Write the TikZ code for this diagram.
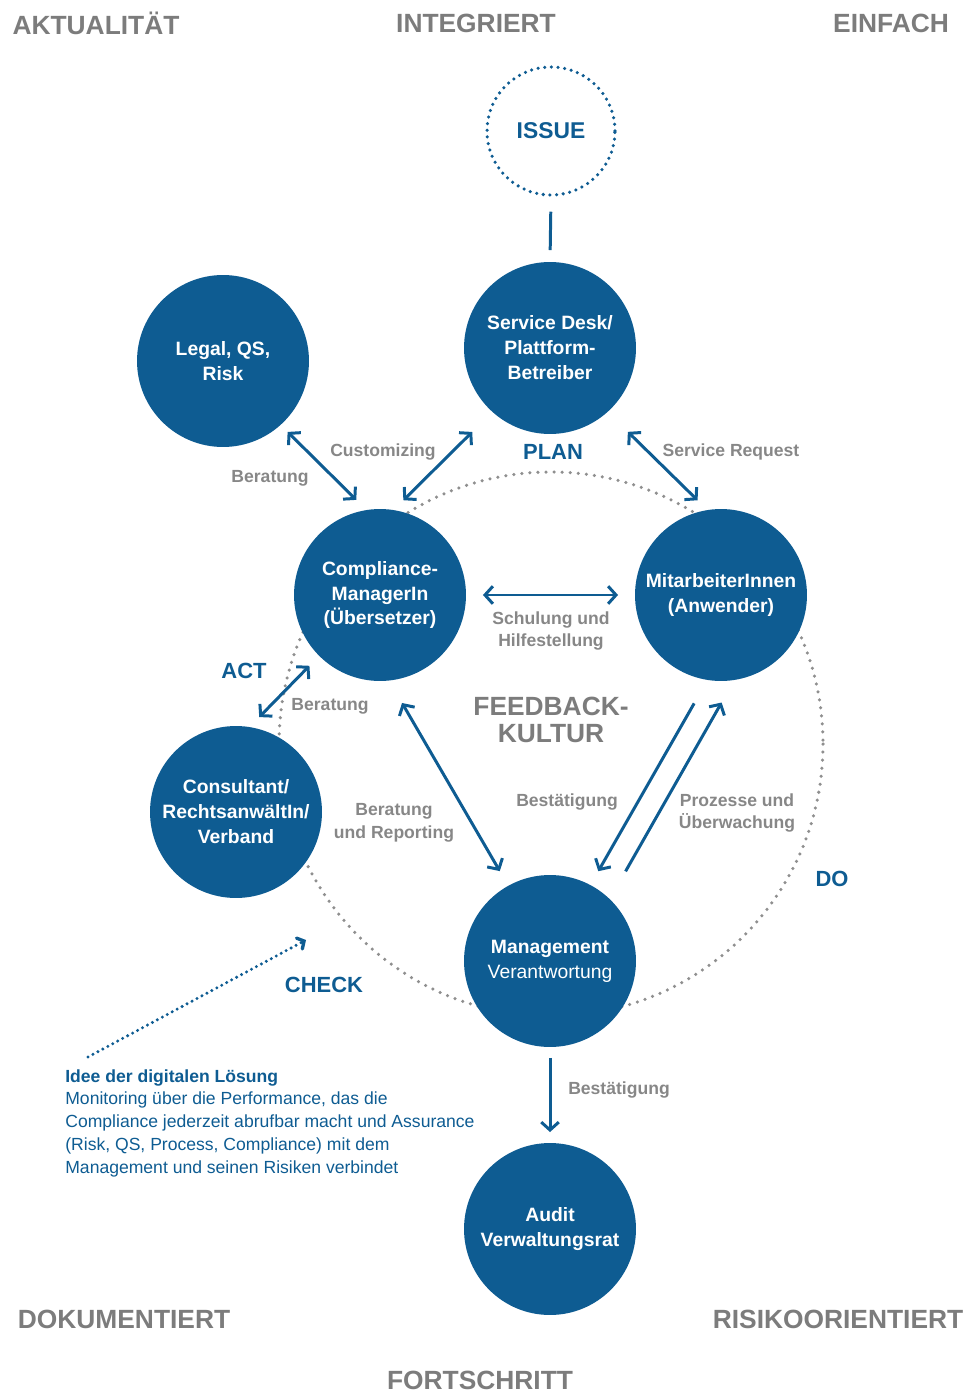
\documentclass[tikz,border=0pt]{standalone}
\usepackage{fontspec}
\setmainfont{Liberation Sans}
\usetikzlibrary{arrows.meta}
\definecolor{deepblue}{HTML}{0E5C92}
\definecolor{labelgrey}{HTML}{878787}
\definecolor{cornergrey}{HTML}{7C7C7C}
\definecolor{ringgrey}{HTML}{8F8F8F}

\begin{document}
\begin{tikzpicture}[x=0.02cm, y=-0.02cm,
  >={Straight Barb[length=4.5pt,width=10pt]},
  roundel/.style={circle, fill=deepblue, minimum size=3.44cm, inner sep=0pt, outer sep=0pt,
    text=white, align=center, font=\fontsize{11}{14.2}\selectfont\bfseries},
  corner/.style={text=cornergrey, font=\fontsize{15}{15}\selectfont\bfseries},
  phase/.style={text=deepblue, font=\fontsize{12.5}{12.5}\selectfont\bfseries},
  flowlabel/.style={text=labelgrey, align=center, font=\fontsize{10}{13}\selectfont\bfseries},
  link/.style={deepblue, line width=1.7pt},
  ring/.style={ringgrey, line width=2pt, line cap=round, dash pattern=on 0pt off 4.6pt}]

\useasboundingbox (0,0) rectangle (969,1395);

%%%%%% corners
\node[corner] (aktual) at (96,23) {AKTUALITÄT};
\node[corner] (integr) at (476,23) {INTEGRIERT};
\node[corner] (einfach) at (891,23) {EINFACH};
\node[corner] (doku) at (124,1319) {DOKUMENTIERT};
\node[corner] (risiko) at (838,1319) {RISIKOORIENTIERT};
\node[corner] (fort) at (480,1380) {FORTSCHRITT};

%feedback ring
\coordinate (kultur) at (551,744);
\draw [ring] (kultur) circle (272);
\node[text=cornergrey, align=center, font=\fontsize{15}{15.5}\selectfont\bfseries] (fbtext) at (551,720) {FEEDBACK-\\KULTUR};

%issue
\node[circle, draw=deepblue, line width=2pt, line cap=round, dash pattern=on 0pt off 3.8pt,
  minimum size=2.56cm, text=deepblue, font=\fontsize{13}{13}\selectfont\bfseries] (issue) at (551,131) {ISSUE};

%%%%%% circles
\node[roundel] (service) at (550,348) {Service Desk/\\Plattform-\\Betreiber};
\node[roundel] (legal) at (223,361) {Legal, QS,\\Risk};
\node[roundel] (comp) at (380,595) {Compliance-\\ManagerIn\\(Übersetzer)};
\node[roundel] (mit) at (721,595) {MitarbeiterInnen\\(Anwender)};
\node[roundel] (cons) at (236,812) {Consultant/\\RechtsanwältIn/\\Verband};
\node[roundel] (mgmt) at (550,961) {Management\\\mdseries Verantwortung};
\node[roundel] (audit) at (550,1229) {Audit\\Verwaltungsrat};

%%%%%% connectors
\draw [link, shorten <=0.3cm, shorten >=0.24cm] (issue.-90) -- (service.90);
\draw [link, <->, shorten <=0.2cm, shorten >=0.29cm] (legal.-48) -- (comp.99);
\draw [link, <->, shorten <=0.57cm, shorten >=0.28cm] (service.228) -- (comp.81);
\draw [link, <->, shorten <=0.57cm, shorten >=0.28cm] (service.-48) -- (mit.99);
\draw [link, <->, shorten <=0.34cm, shorten >=0.34cm] (comp.0) -- (mit.180);
\draw [link, <->, shorten <=0.28cm, shorten >=0.28cm] (comp.225) -- (cons.81);
\draw [link, <->, shorten <=0.52cm, shorten >=0.34cm] (comp.-84) -- (mgmt.119);
\draw [link, ->, shorten <=0.54cm, shorten >=0.32cm] (mit.-99) -- (mgmt.62);
\draw [link, ->, shorten <=0.64cm, shorten >=0.52cm] (mgmt.46) -- (mit.-81);
\draw [link, ->, shorten <=0.22cm, shorten >=0.22cm] (mgmt.-90) -- (audit.90);

%dotted pointer
\coordinate (idea) at (88,1057);
\coordinate (checkpt) at (306,940);
\draw [deepblue, line width=1.9pt, line cap=round, dash pattern=on 0pt off 3.2pt,
  -{Straight Barb[length=3pt,width=7pt,line cap=round]}] (idea) -- (checkpt);

%%%%%% labels
\node[flowlabel] (custom) at (383,452) {Customizing};
\node[flowlabel] (berat1) at (270,478) {Beratung};
\node[flowlabel] (sreq) at (731,452) {Service Request};
\node[flowlabel] (schul) at (551,631) {Schulung und\\Hilfestellung};
\node[flowlabel] (berat2) at (330,706) {Beratung};
\node[flowlabel] (berat3) at (394,823) {Beratung\\und Reporting};
\node[flowlabel] (best1) at (567,802) {Bestätigung};
\node[flowlabel] (proz) at (737,813) {Prozesse und\\Überwachung};
\node[flowlabel] (best2) at (619,1090) {Bestätigung};

\node[phase] (plan) at (553,452) {PLAN};
\node[phase] (act) at (244,671) {ACT};
\node[phase] (do) at (832,879) {DO};
\node[phase] (check) at (324,985) {CHECK};

%idea text
\node[anchor=north west, inner sep=0pt, align=left, text=deepblue,
  font=\fontsize{10}{13}\selectfont] (ideatext) at (65,1069)
  {\textbf{Idee der digitalen Lösung}\\
   Monitoring über die Performance, das die\\
   Compliance jederzeit abrufbar macht und Assurance\\
   (Risk, QS, Process, Compliance) mit dem\\
   Management und seinen Risiken verbindet};

\end{tikzpicture}
\end{document}
